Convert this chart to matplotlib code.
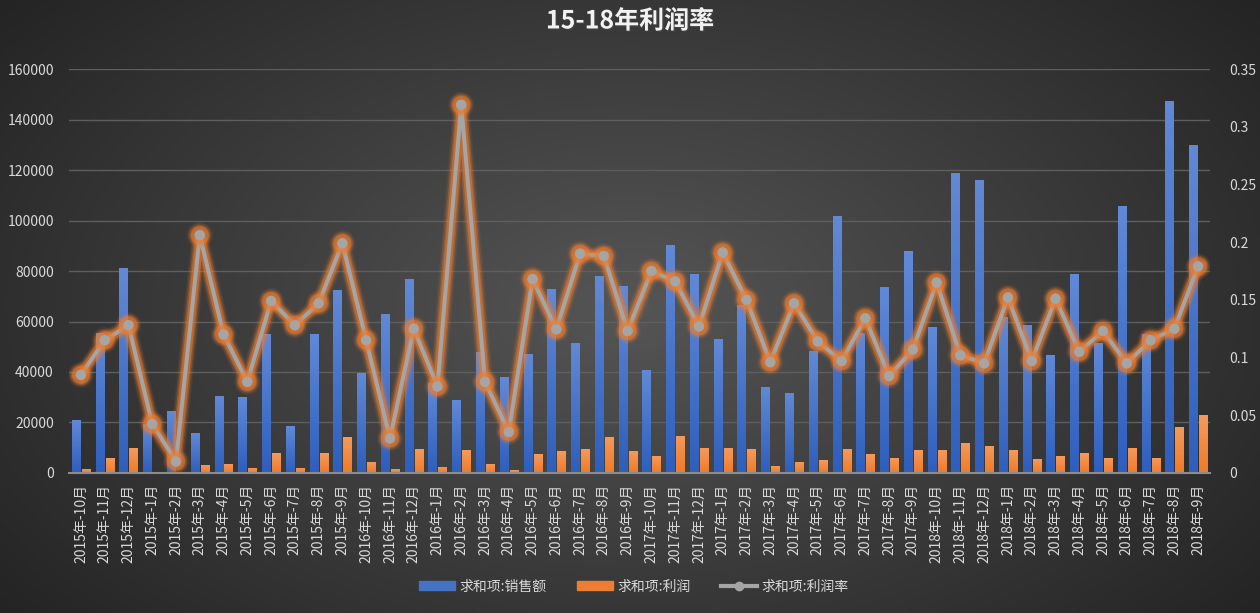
import numpy as np
import matplotlib
matplotlib.use("Agg")
import matplotlib.pyplot as plt
import matplotlib.patheffects as pe
from matplotlib.lines import Line2D
from matplotlib.patches import Patch
from matplotlib.colors import LinearSegmentedColormap

plt.rcParams['font.family'] = ['Noto Sans CJK SC', 'DejaVu Sans']

## chart data
years = [2015, 2016, 2017, 2018]
months = [10, 11, 12, 1, 2, 3, 4, 5, 6, 7, 8, 9]
labels = [str(y) + "年-" + str(m) + "月" for y in years for m in months]

sales = [20800, 55400, 81200, 19400, 24600, 15800, 30500, 30100,
         55000, 18600, 55000, 72500, 39600, 63000, 76800, 35600, 28900, 47900,
         38000, 47100, 72900, 51500, 78000, 74000, 40800, 90300, 78800, 53100,
         66500, 34100, 31700, 48300, 101800, 55500, 73700, 87900, 57800, 118800,
         116000, 61900, 58600, 46700, 78800, 51500, 105700, 55000, 147300, 129900]

profit = [1600, 5900, 9900, 400, 200, 3200, 3600, 2100,
          7900, 2000, 7900, 14300, 4400, 1600, 9500, 2400, 9100, 3600,
          1200, 7500, 8700, 9500, 14300, 8700, 6700, 14700, 9900, 9900,
          9500, 2800, 4400, 5100, 9500, 7500, 5900, 9100, 9100, 11900,
          10700, 9100, 5500, 6700, 7900, 5900, 9900, 5900, 18200, 23000]

rate = [0.085, 0.115, 0.128, 0.0425, 0.010, 0.206, 0.120, 0.079,
        0.149, 0.128, 0.147, 0.199, 0.115, 0.030, 0.125, 0.075, 0.319, 0.079,
        0.0355, 0.168, 0.1245, 0.190, 0.188, 0.123, 0.175, 0.166, 0.127, 0.191,
        0.150, 0.096, 0.147, 0.114, 0.097, 0.134, 0.084, 0.107, 0.165, 0.102,
        0.095, 0.152, 0.097, 0.151, 0.105, 0.123, 0.095, 0.115, 0.125, 0.179]

blue = "#4472c4"
orange = "#ed7d31"
grey = "#a5a5a5"
txt = "#d9d9d9"

fig = plt.figure(figsize=(12.6, 6.13), dpi=100)

## radial dark background, lighter in the middle
bg = fig.add_axes([0, 0, 1, 1], zorder=-10)
yy, xx = np.mgrid[-1:1:300j, -1:1:600j]
r = np.clip(np.sqrt(xx ** 2 + (yy * 0.8) ** 2) / 1.25, 0, 1)
lev = (0.335 - 0.19 * r)[..., None]
bg.imshow(np.repeat(lev, 3, axis=2), aspect="auto", extent=[0, 1, 0, 1])
bg.axis("off")

ax = fig.add_axes([0.0548, 0.2284, 0.9055, 0.659])
ax.patch.set_alpha(0)
x = np.arange(len(labels))
w = 0.34
b1 = ax.bar(x - 0.21, sales, w, color=blue, zorder=2)
b2 = ax.bar(x + 0.21, profit, w, color=orange, zorder=2)

## vertical gradient fill, light at the top like the Excel bars
cm_blue = LinearSegmentedColormap.from_list("b", ["#2e5fbd", "#6189d6"])
cm_orange = LinearSegmentedColormap.from_list("o", ["#f07a28", "#f59a5c"])
grad = np.linspace(0, 1, 64).reshape(-1, 1)
for bars, cm in [(b1, cm_blue), (b2, cm_orange)]:
    for b in bars:
        bx, by = b.get_x(), b.get_y()
        bw, bh = b.get_width(), b.get_height()
        if bh <= 0:
            continue
        im = ax.imshow(grad, cmap=cm, origin="lower", aspect="auto",
                       extent=[bx, bx + bw, by, by + bh], zorder=2.1)
        im.set_clip_path(b)

ax.set_xlim(-0.5, len(labels) - 0.5)
ax.set_ylim(0, 160000)
ax.set_yticks(np.arange(0, 160001, 20000))
ax.grid(axis="y", color="#5e5e5e", linewidth=1, zorder=0)
ax.set_axisbelow(True)
for s in ["top", "right", "left"]:
    ax.spines[s].set_visible(False)
ax.spines["bottom"].set_color("#8c8c8c")
ax.spines["bottom"].set_linewidth(1.5)
ax.spines["bottom"].set_zorder(3)
ax.set_xticks(x)
ax.set_xticklabels(labels, rotation=90, color=txt, fontsize=10)
ax.tick_params(axis="both", length=0, colors=txt, labelsize=10)
ax.tick_params(axis="y", pad=11)
ax.tick_params(axis="x", pad=8)

ax2 = ax.twinx()
ax2.set_ylim(0, 0.35)
ax2.set_yticks([0, 0.05, 0.1, 0.15, 0.2, 0.25, 0.3, 0.35])
ax2.set_yticklabels(["0", "0.05", "0.1", "0.15", "0.2", "0.25", "0.3", "0.35"])
ax2.tick_params(axis="y", length=0, colors=txt, labelsize=10, pad=14)
for s in ax2.spines.values():
    s.set_visible(False)

## soft orange glow round the grey line
glow = [pe.Stroke(linewidth=12, foreground=orange, alpha=0.08),
        pe.Stroke(linewidth=10, foreground=orange, alpha=0.15),
        pe.Stroke(linewidth=8, foreground=orange, alpha=0.3),
        pe.Stroke(linewidth=6, foreground=orange, alpha=0.5),
        pe.Normal()]
ax2.plot(x, rate, color=grey, linewidth=2.9, marker="o", markersize=7,
         markerfacecolor=grey, markeredgecolor=grey, markeredgewidth=0.5,
         zorder=5, path_effects=glow)

fig.text(0.5, 0.965, "15-18年利润率", ha="center", va="center", color="#f2f2f2",
         fontsize=18, fontweight="bold",
         path_effects=[pe.withSimplePatchShadow(offset=(1, -1), alpha=0.5)])

handles = [Patch(color=blue), Patch(color=orange),
           Line2D([0], [0], color=grey, linewidth=3, marker="o", markersize=6)]
fig.legend(handles, ["求和项:销售额", "求和项:利润", "求和项:利润率"], loc="center",
           bbox_to_anchor=(0.503, 0.043), ncol=3, frameon=False, fontsize=10,
           labelcolor=txt, handlelength=2.6, handleheight=0.6, columnspacing=2.2,
           handletextpad=0.3)

fig.savefig("out.png", dpi=100)
